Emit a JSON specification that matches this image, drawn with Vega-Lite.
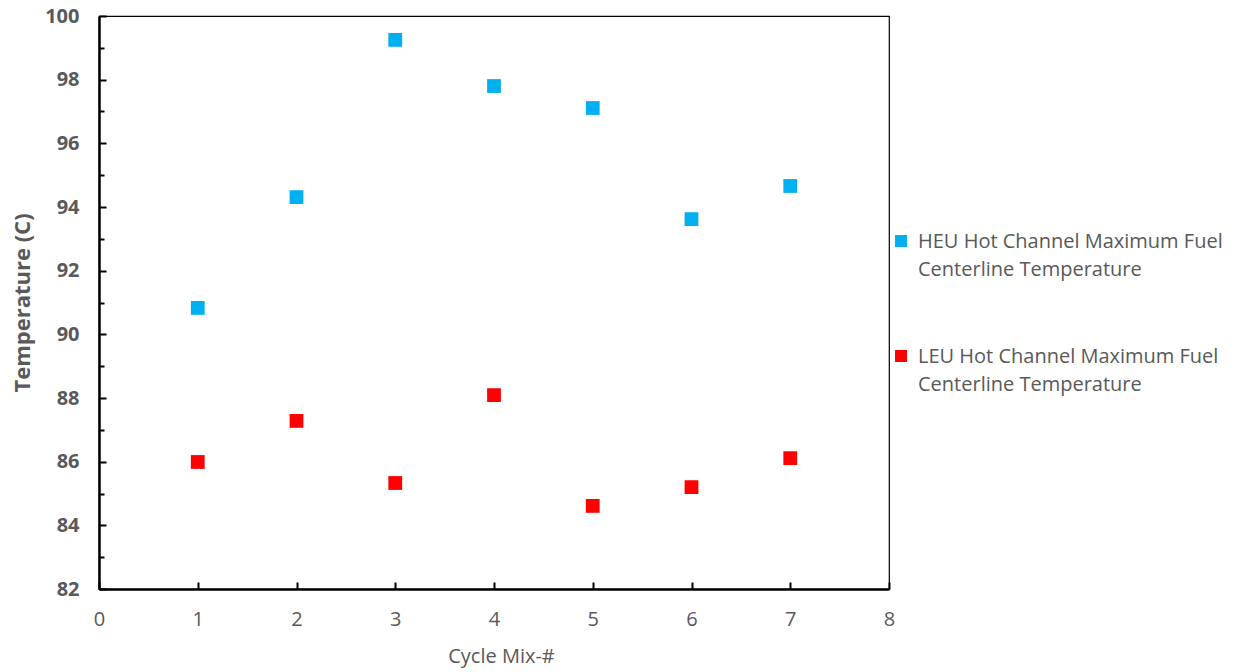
{
  "$schema": "https://vega.github.io/schema/vega-lite/v6.json",
  "width": 790,
  "height": 573,
  "autosize": "none",
  "padding": {"left": 99, "top": 16, "right": 349, "bottom": 83},
  "background": "white",
  "config": {
    "font": "Open Sans",
    "view": {"stroke": "black", "strokeWidth": 1.2},
    "style": {"guide-label": {"lineHeight": 28}}
  },
  "data": {
    "values": [
      {"cycle": 1, "temp": 90.83, "series": "HEU Hot Channel Maximum Fuel Centerline Temperature"},
      {"cycle": 2, "temp": 94.31, "series": "HEU Hot Channel Maximum Fuel Centerline Temperature"},
      {"cycle": 3, "temp": 99.25, "series": "HEU Hot Channel Maximum Fuel Centerline Temperature"},
      {"cycle": 4, "temp": 97.80, "series": "HEU Hot Channel Maximum Fuel Centerline Temperature"},
      {"cycle": 5, "temp": 97.11, "series": "HEU Hot Channel Maximum Fuel Centerline Temperature"},
      {"cycle": 6, "temp": 93.62, "series": "HEU Hot Channel Maximum Fuel Centerline Temperature"},
      {"cycle": 7, "temp": 94.66, "series": "HEU Hot Channel Maximum Fuel Centerline Temperature"},
      {"cycle": 1, "temp": 85.99, "series": "LEU Hot Channel Maximum Fuel Centerline Temperature"},
      {"cycle": 2, "temp": 87.28, "series": "LEU Hot Channel Maximum Fuel Centerline Temperature"},
      {"cycle": 3, "temp": 85.33, "series": "LEU Hot Channel Maximum Fuel Centerline Temperature"},
      {"cycle": 4, "temp": 88.09, "series": "LEU Hot Channel Maximum Fuel Centerline Temperature"},
      {"cycle": 5, "temp": 84.61, "series": "LEU Hot Channel Maximum Fuel Centerline Temperature"},
      {"cycle": 6, "temp": 85.20, "series": "LEU Hot Channel Maximum Fuel Centerline Temperature"},
      {"cycle": 7, "temp": 86.11, "series": "LEU Hot Channel Maximum Fuel Centerline Temperature"}
    ]
  },
  "layer": [
    {
      "mark": {"type": "square", "size": 190, "opacity": 1},
      "encoding": {
        "x": {
          "field": "cycle", "type": "quantitative",
          "scale": {"domain": [0, 8], "nice": false, "zero": false},
          "axis": {
            "title": "Cycle Mix-#",
            "values": [0, 1, 2, 3, 4, 5, 6, 7, 8],
            "format": "d",
            "labelFlush": false,
            "grid": false,
            "domainColor": "black", "domainWidth": 2.5,
            "tickColor": "black", "tickWidth": 2, "tickSize": -7,
            "labelFontSize": 20, "labelColor": "#595959", "labelPadding": 27,
            "titleFontSize": 20, "titleColor": "#595959", "titleFontWeight": "normal", "titlePadding": 17,
            "titleX": 402
          }
        },
        "y": {
          "field": "temp", "type": "quantitative",
          "scale": {"domain": [82, 100], "nice": false, "zero": false},
          "axis": {
            "title": "Temperature (C)",
            "values": [82, 84, 86, 88, 90, 92, 94, 96, 98, 100],
            "grid": false,
            "domainColor": "black", "domainWidth": 2.5,
            "tickColor": "black", "tickWidth": 2, "tickSize": -7,
            "labelFontSize": 20, "labelFontWeight": "bold", "labelColor": "#595959", "labelPadding": 27,
            "titleFontSize": 22, "titleColor": "#595959", "titleFontWeight": "bold", "titlePadding": 10
          }
        },
        "color": {
          "field": "series", "type": "nominal",
          "scale": {"range": ["#00B0F0", "#FF0000"]},
          "legend": {
            "title": null,
            "orient": "none",
            "legendX": 792,
            "legendY": 206,
            "symbolType": "M-1,0.5H1V2.5H-1Z",
            "symbolSize": 144,
            "symbolStrokeWidth": 0,
            "labelFontSize": 20,
            "labelColor": "#595959",
            "labelLimit": 400,
            "labelOffset": 7,
            "labelBaseline": "top",
            "rowPadding": 57,
            "labelExpr": "[slice(datum.label, 0, 28), slice(datum.label, 29)]"
          }
        }
      }
    },
    {
      "mark": {"type": "point", "opacity": 0},
      "encoding": {
        "x": {"field": "cycle", "type": "quantitative", "scale": {"domain": [0, 8], "nice": false, "zero": false}},
        "y": {
          "field": "temp", "type": "quantitative",
          "scale": {"domain": [82, 100], "nice": false, "zero": false},
          "axis": {
            "orient": "left",
            "title": null,
            "labels": false,
            "domain": false,
            "grid": false,
            "values": [83, 85, 87, 89, 91, 93, 95, 97, 99],
            "tickColor": "black", "tickWidth": 2, "tickSize": -5
          }
        }
      }
    }
  ],
  "resolve": {"axis": {"y": "independent", "x": "shared"}}
}
